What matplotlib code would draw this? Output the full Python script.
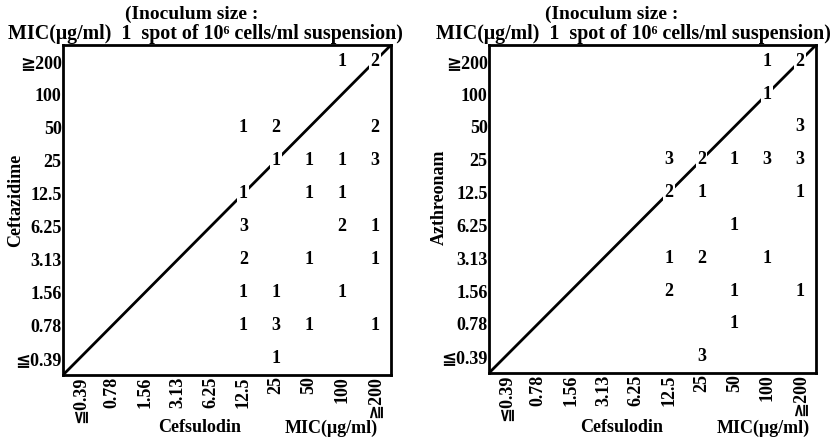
import numpy as np
import matplotlib

matplotlib.use("Agg")
import matplotlib.pyplot as plt

# MIC steps (ug/ml), same on both axes
mic_labels = ["≦0.39", "0.78", "1.56", "3.13", "6.25", "12.5", "25", "50", "100", "≧200"]

# left panel: cefsulodin (x index) vs ceftazidime (y index) -> number of strains
caz_x = [8, 9, 5, 6, 9, 6, 7, 8, 9, 5, 7, 8, 5, 8, 9, 5, 7, 9, 5, 6, 8, 5, 6, 7, 9, 6]
caz_y = [9, 9, 7, 7, 7, 6, 6, 6, 6, 5, 5, 5, 4, 4, 4, 3, 3, 3, 2, 2, 2, 1, 1, 1, 1, 0]
caz_n = [1, 2, 1, 2, 2, 1, 1, 1, 3, 1, 1, 1, 3, 2, 1, 2, 1, 1, 1, 1, 1, 1, 3, 1, 1, 1]

# right panel: cefsulodin (x index) vs azthreonam (y index)
azt_x = [8, 9, 8, 9, 5, 6, 7, 8, 9, 5, 6, 9, 7, 5, 6, 8, 5, 7, 9, 7, 6]
azt_y = [9, 9, 8, 7, 6, 6, 6, 6, 6, 5, 5, 5, 4, 3, 3, 3, 2, 2, 2, 1, 0]
azt_n = [1, 2, 1, 3, 3, 2, 1, 3, 3, 2, 1, 1, 1, 1, 2, 1, 2, 1, 1, 1, 3]

FONT = ["Liberation Serif", "DejaVu Serif", "DejaVu Sans"]
plt.rcParams["font.family"] = FONT
plt.rcParams["font.weight"] = "bold"

W, H = 839, 445
fig = plt.figure(figsize=(W / 100, H / 100), dpi=100)


def panel(box, xs, ys, ns, ylabel, ylab_px, xlab_px):
    # box = (left, top, right, bottom) in pixels
    l, t, r, b = box
    ax = fig.add_axes([l / W, 1 - b / H, (r - l) / W, (b - t) / H])
    ax.set_xlim(-0.5, 9.5)
    ax.set_ylim(-0.5, 9.5)
    ax.plot([-0.5, 9.5], [-0.5, 9.5], color="black", lw=2, solid_capstyle="butt")
    for x, y, n in zip(xs, ys, ns):
        ax.text(x, y, str(n), ha="center", va="center", fontsize=13,
                fontweight="bold",
                bbox=dict(facecolor="white", edgecolor="none", pad=1.0))
    ticks = np.arange(len(mic_labels))
    ax.set_xticks(ticks)
    ax.set_yticks(ticks)
    ax.set_xticklabels(mic_labels, rotation=90, fontsize=13, fontweight="bold")
    ax.set_yticklabels(mic_labels, fontsize=13, fontweight="bold")
    ax.tick_params(length=0, pad=1)
    for s in ax.spines.values():
        s.set_linewidth(2)
    fig.text(ylab_px[0] / W, 1 - ylab_px[1] / H, ylabel, rotation=90,
             ha="center", va="center", fontsize=13, fontweight="bold")
    fig.text(xlab_px[0] / W, 1 - 428 / H, "Cefsulodin", ha="center",
             va="center", fontsize=13, fontweight="bold")
    fig.text(xlab_px[1] / W, 1 - 428 / H, "MIC(μg/ml)", ha="center",
             va="center", fontsize=13, fontweight="bold")
    return ax


ax1 = panel((63, 45, 391, 375), caz_x, caz_y, caz_n, "Ceftazidime",
            (16, 200), (200, 331))
ax2 = panel((489, 45, 816, 373), azt_x, azt_y, azt_n, "Azthreonam",
            (439, 197), (622, 763))

for cx, left in [(192, 8), (612, 436)]:
    fig.text(cx / W, 1 - 14 / H, "(Inoculum size :", ha="center",
             va="center", fontsize=14, fontweight="bold")
    fig.text(left / W, 1 - 34 / H,
             "MIC(μg/ml)  1  spot of 10⁶ cells/ml suspension)",
             ha="left", va="center", fontsize=14.4, fontweight="bold")

fig.savefig("out.png", dpi=100)
